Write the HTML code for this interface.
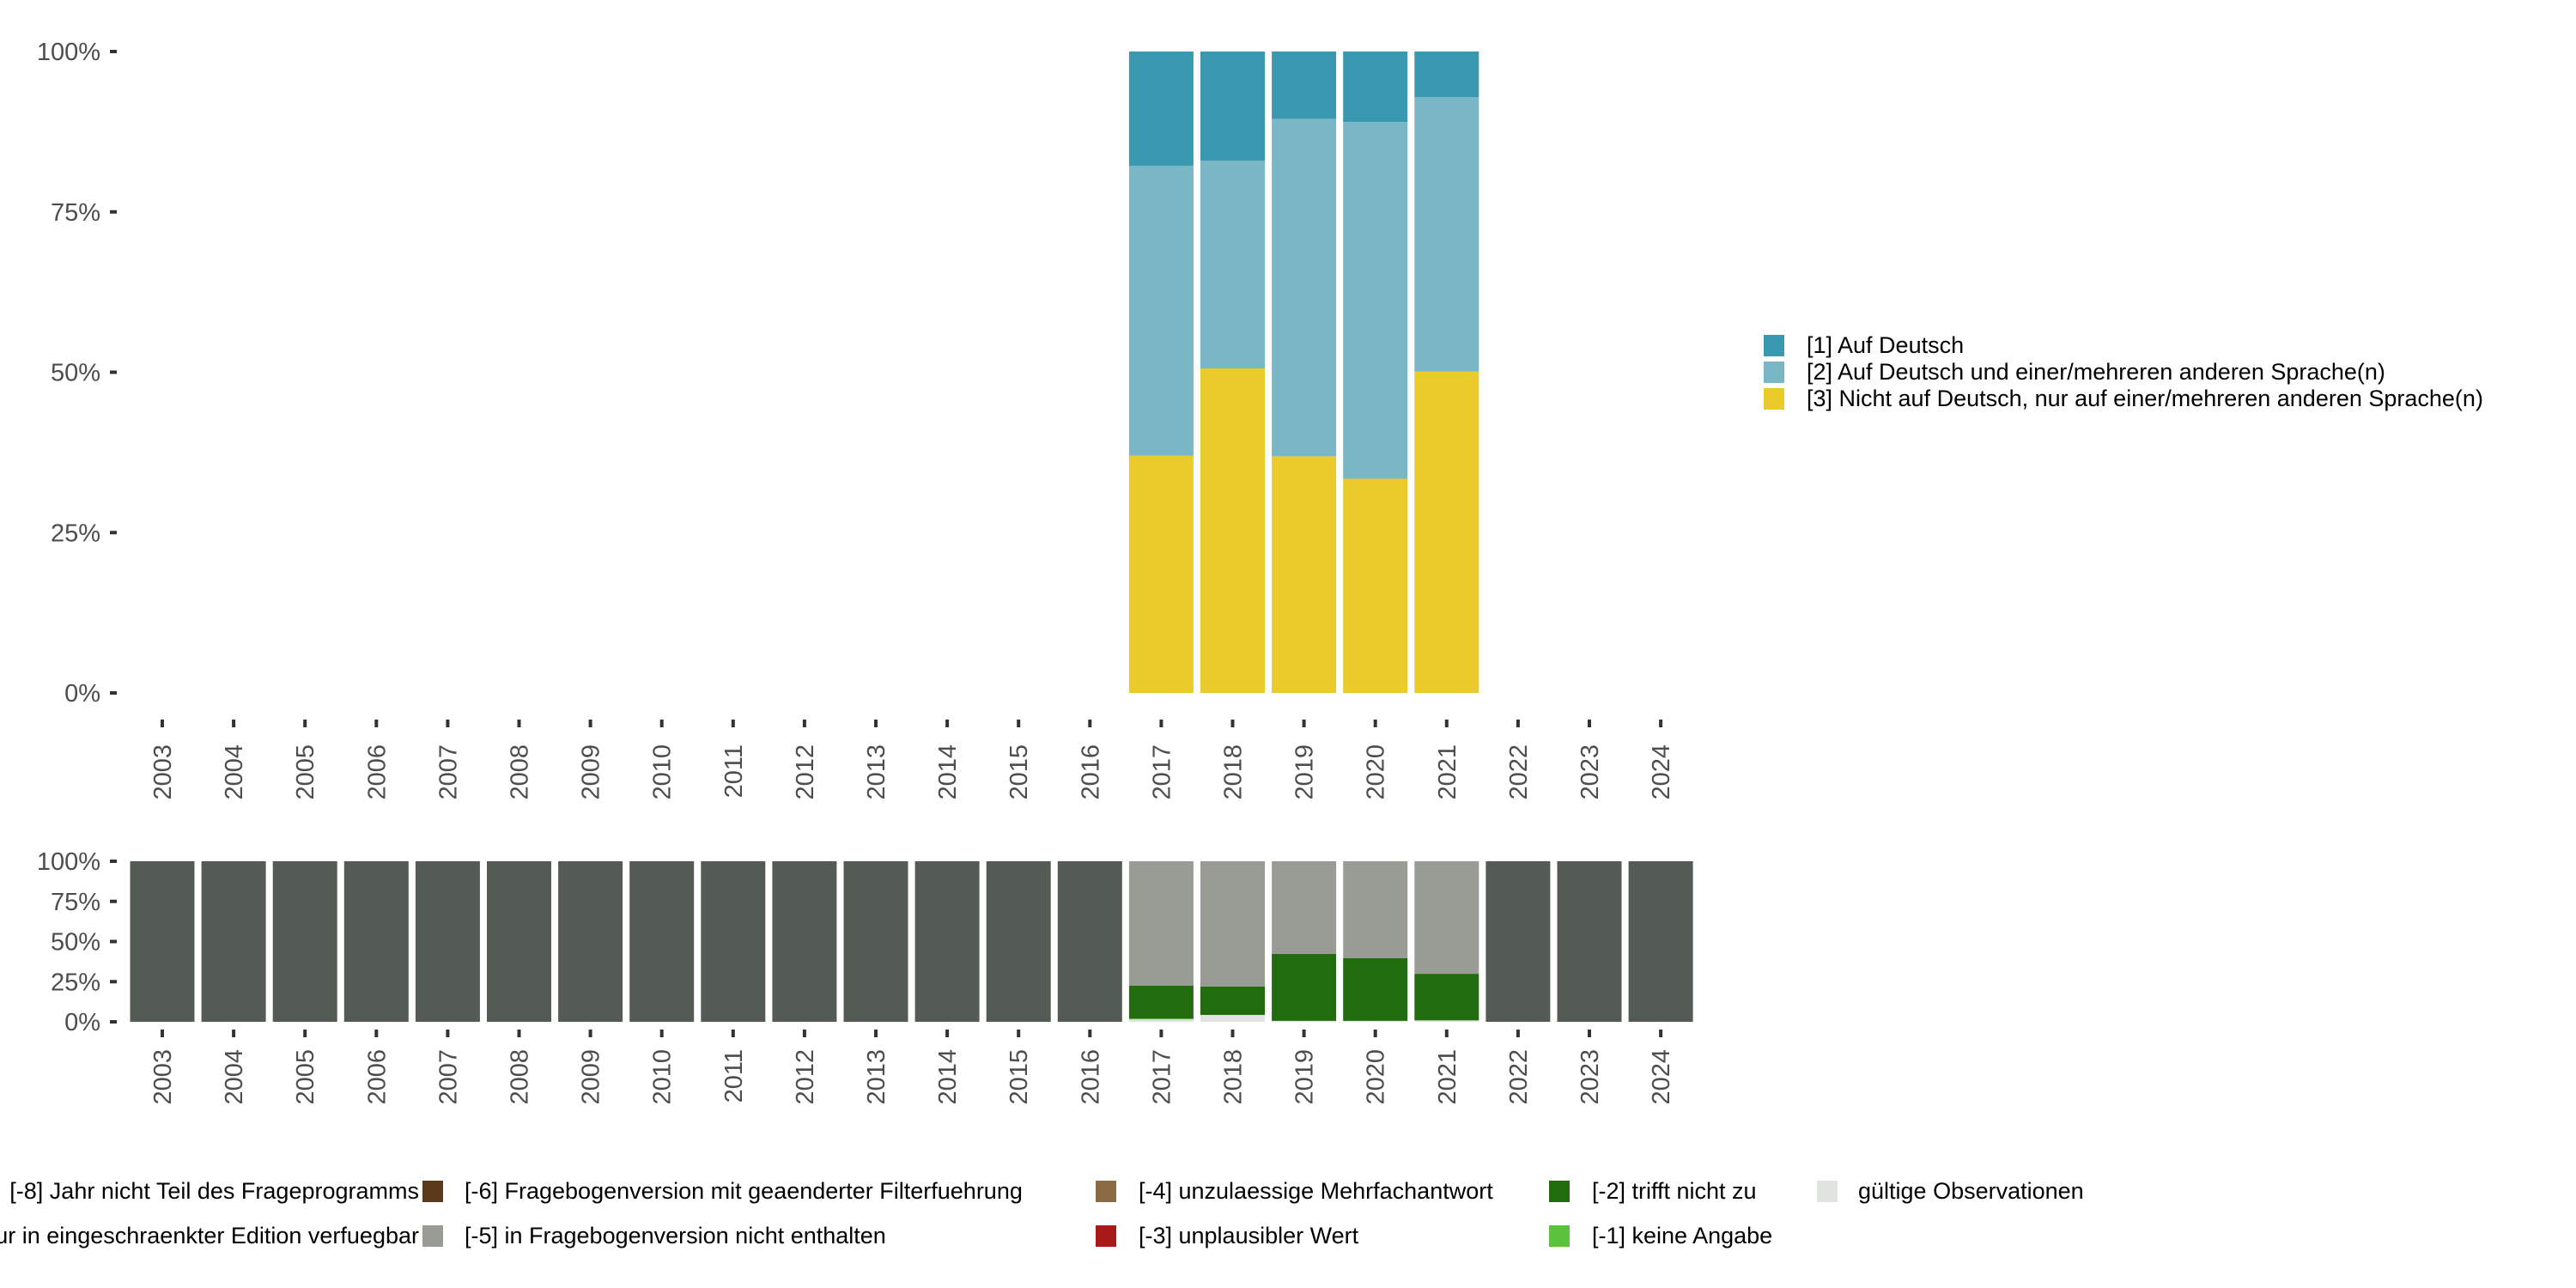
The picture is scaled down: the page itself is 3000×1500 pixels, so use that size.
<!DOCTYPE html>
<html><head><meta charset="utf-8"><style>
html,body{margin:0;padding:0;background:#fff;}
svg{display:block;font-family:"Liberation Sans","DejaVu Sans",sans-serif;}
</style></head><body>
<svg id="chart" width="3000" height="1500" viewBox="0 0 3000 1500" xmlns="http://www.w3.org/2000/svg"></svg>
<script>
const years = [2003,2004,2005,2006,2007,2008,2009,2010,2011,2012,2013,2014,2015,2016,2017,2018,2019,2020,2021,2022,2023,2024];
const topYears = [2017,2018,2019,2020,2021];
const topCat3 = [37.0,50.6,36.9,33.4,50.1];
const topCat2 = [45.2,32.4,52.6,55.6,42.8];
const topCat1 = [17.8,17.0,10.5,11.0,7.1];
const botValid = [1.5,4.3,0.6,0.6,0.9];
const botMinus1 = [0.5,0,0,0,0];
const botMinus2 = [20.6,17.7,41.7,39.1,29.0];
const botMinus5 = [77.4,78.0,57.7,60.3,70.1];
const yTicks = [0,25,50,75,100];
const yTickLabels = ["0%","25%","50%","75%","100%"];
const topLegend = ["[1] Auf Deutsch","[2] Auf Deutsch und einer/mehreren anderen Sprache(n)","[3] Nicht auf Deutsch, nur auf einer/mehreren anderen Sprache(n)"];

const NS="http://www.w3.org/2000/svg";
const svg=document.getElementById('chart');
function el(tag,attrs,parent){const e=document.createElementNS(NS,tag);for(const k in attrs)e.setAttribute(k,attrs[k]);(parent||svg).appendChild(e);return e;}
const x0=189, step=83.1, bw=75;
function xc(y){return x0+(y-2003)*step;}
const topP={y0:807,y1:60};
const botP={y0:1190,y1:1003};
function ys(p,v){return p.y0-(p.y0-p.y1)*v/100;}
const C1='#3a98b0',C2='#7ab7c6',C3='#ebcb2c';

function axes(p,name,labY0,tickY){
  const g=el('g',{});
  
  
  yTicks.forEach((t,i)=>{
    const y=ys(p,t);
    const tk=el('rect',{x:128,y:y-2,width:8,height:4,fill:'#333'},g);
    
    
    const tx=el('text',{x:117,y:y+10,'text-anchor':'end','font-size':29,fill:'#4d4d4d'},g);
    tx.textContent=yTickLabels[i];
    
    
  });
  const gx=el('g',{});
  
  
  years.forEach(yr=>{
    const x=xc(yr);
    const tk=el('rect',{x:x-2,y:tickY,width:4,height:9,fill:'#333'},gx);
    
    
    const tx=el('text',{x:0,y:0,'text-anchor':'end','font-size':29,fill:'#4d4d4d',transform:`translate(${x+10},${labY0}) rotate(-90)`},gx);
    tx.textContent=yr;
    
    
  });
}
axes(topP,'top',867,838);
axes(botP,'bottom',1222,1199);

topYears.forEach((yr,i)=>{
  let base=0;
  [[topCat3[i],C3,'cat3'],[topCat2[i],C2,'cat2'],[topCat1[i],C1,'cat1']].forEach(([v,c,n])=>{
    const r=el('rect',{x:xc(yr)-bw/2,y:ys(topP,base+v),width:bw,height:ys(topP,base)-ys(topP,base+v),fill:c});
    
    
    base+=v;
  });
});
years.forEach(yr=>{
  const i=topYears.indexOf(yr);
  let segs;
  if(i<0) segs=[[100,'#545b54','not-in-program']];
  else segs=[[botValid[i],'#e0e4e0','valid'],[botMinus1[i],'#5bc23c','minus1'],[botMinus2[i],'#226c10','minus2'],[botMinus5[i],'#989c95','minus5']];
  let base=0;
  segs.forEach(([v,c,n])=>{
    if(v<=0)return;
    const r=el('rect',{x:xc(yr)-bw/2,y:ys(botP,base+v),width:bw,height:ys(botP,base)-ys(botP,base+v),fill:c});
    
    
    base+=v;
  });
});
[C1,C2,C3].forEach((c,i)=>{
  const y=390+i*31;
  const s=el('rect',{x:2054,y:y,width:24,height:25,fill:c});
  
  
  const t=el('text',{x:2104,y:y+21,'font-size':27,fill:'#000'});
  t.textContent=topLegend[i];
  
  
});
const bl=[
 [null,'[-8] Jahr nicht Teil des Frageprogramms',488,1387,'#545b54'],
 [null,'[-7] nur in eingeschraenkter Edition verfuegbar',488,1439,'#cccccc'],
 [492,'[-6] Fragebogenversion mit geaenderter Filterfuehrung',541,1387,'#5a3a1a'],
 [492,'[-5] in Fragebogenversion nicht enthalten',541,1439,'#989c95'],
 [1276,'[-4] unzulaessige Mehrfachantwort',1326,1387,'#8b6a45'],
 [1276,'[-3] unplausibler Wert',1326,1439,'#a8191a'],
 [1804,'[-2] trifft nicht zu',1854,1387,'#226c10'],
 [1804,'[-1] keine Angabe',1854,1439,'#5bc23c'],
 [2116,'gültige Observationen',2164,1387,'#e0e4e0']
];
bl.forEach(b=>{
  if(b[0]!==null){
    const s=el('rect',{x:b[0],y:b[3]-12,width:24,height:25,fill:b[4]});
    
    
  }
  const t=el('text',{x:b[2],y:b[3]+9,'font-size':27,fill:'#000','text-anchor':b[0]===null?'end':'start'});
  t.textContent=b[1];
  
  
});
</script>
</body></html>
